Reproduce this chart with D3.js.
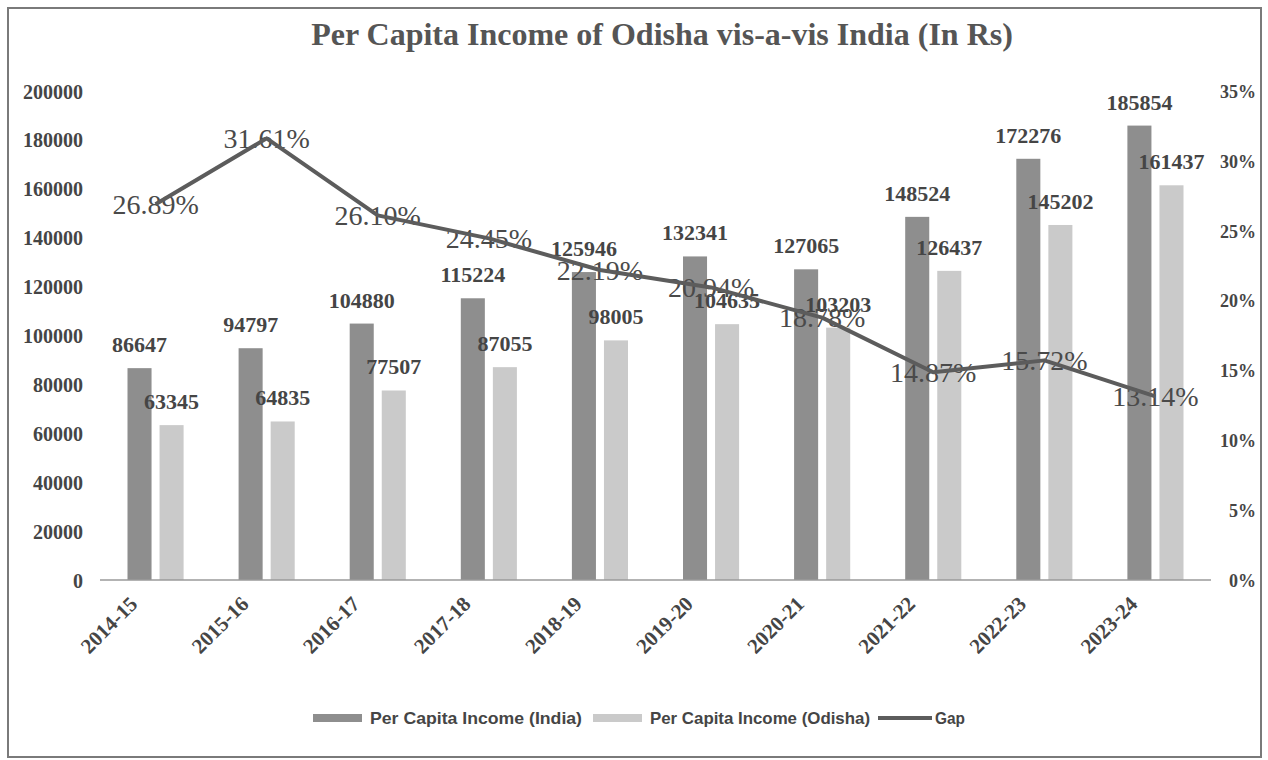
<!DOCTYPE html>
<html>
<head>
<meta charset="utf-8">
<script src="https://cdn.jsdelivr.net/npm/d3@7"></script>
<style>
body{margin:0;background:#fff;}
svg{display:block;}
</style>
</head>
<body>
<svg id="chart" width="1268" height="760"></svg>
<script>
// data
const years = ["2014-15","2015-16","2016-17","2017-18","2018-19","2019-20","2020-21","2021-22","2022-23","2023-24"];
const indiaPCI = [86647,94797,104880,115224,125946,132341,127065,148524,172276,185854];
const odishaPCI = [63345,64835,77507,87055,98005,104635,103203,126437,145202,161437];
const gapPct = [26.89,31.61,26.10,24.45,22.19,20.94,18.78,14.87,15.72,13.14];
const leftTicks = [0,20000,40000,60000,80000,100000,120000,140000,160000,180000,200000];
const rightTicks = [0,5,10,15,20,25,30,35];
const seriesNames = ["Per Capita Income (India)","Per Capita Income (Odisha)","Gap"];

const cIndia = "#8e8e8e", cOdisha = "#cacaca", cGap = "#5c5c5c", cText = "#454545";
const serif = "'Liberation Serif','Times New Roman',serif";

let svg = d3.select("#chart");

svg.append("rect")
  .attr("x",8).attr("y",8).attr("width",1253).attr("height",749)
  .attr("fill","#fff").attr("stroke","#7a7a7a").attr("stroke-width",2);

let plot = {left:100, right:1211, top:91, bottom:580};

let x = d3.scaleBand().domain(years)
  .range([plot.left, plot.right])
  .paddingInner(0.495).paddingOuter(0.2475);
let xs = d3.scaleBand().domain(["india","odisha"])
  .range([0, x.bandwidth()]).paddingInner(0.25);
let y = d3.scaleLinear().domain([0,200000]).range([plot.bottom, plot.top]);
let y2 = d3.scaleLinear().domain([0,35]).range([plot.bottom, plot.top]);

// title
svg.append("text")
  .attr("x",662).attr("y",45)
  .attr("text-anchor","middle")
  .style("font-family",serif).style("font-weight","bold").style("font-size","32px")
  .attr("fill","#555")
  .text("Per Capita Income of Odisha vis-a-vis India (In Rs)");

// left axis
let leftAxis = svg.append("g")
  .attr("transform","translate(83,0)")
  .call(d3.axisLeft(y).tickValues(leftTicks).tickSize(0).tickPadding(0).tickFormat(d3.format("d")));
leftAxis.select(".domain").remove();
leftAxis.selectAll("text")
  .attr("dy","0.35em")
  .style("font-family",serif).style("font-weight","bold").style("font-size","20px")
  .attr("fill",cText);

// right axis
let rightAxis = svg.append("g")
  .attr("transform","translate(1256,0)")
  .call(d3.axisRight(y2).tickValues(rightTicks).tickSize(0).tickPadding(0).tickFormat(d => d + "%"));
rightAxis.select(".domain").remove();
rightAxis.selectAll("text")
  .attr("text-anchor","end")
  .attr("dy","0.35em")
  .style("font-family",serif).style("font-weight","bold").style("font-size","18px")
  .attr("fill",cText);

// bars
let groups = svg.append("g").selectAll("g")
  .data(years)
  .join("g")
  .attr("transform", d => "translate(" + x(d) + ",0)");

groups.append("rect")
  .attr("x", xs("india"))
  .attr("width", xs.bandwidth())
  .attr("y", (d,i) => y(indiaPCI[i]))
  .attr("height", (d,i) => y(0) - y(indiaPCI[i]))
  .attr("fill", cIndia);

groups.append("rect")
  .attr("x", xs("odisha"))
  .attr("width", xs.bandwidth())
  .attr("y", (d,i) => y(odishaPCI[i]))
  .attr("height", (d,i) => y(0) - y(odishaPCI[i]))
  .attr("fill", cOdisha);

// x axis line
svg.append("line")
  .attr("x1",plot.left).attr("x2",plot.right)
  .attr("y1",plot.bottom).attr("y2",plot.bottom)
  .attr("stroke","#9a9a9a").attr("stroke-width",1.5);

// x labels
svg.append("g").selectAll("text")
  .data(years)
  .join("text")
  .attr("transform", d => "translate(" + (x(d) + x.bandwidth()/2 - 22) + ",600) rotate(-45)")
  .attr("text-anchor","end")
  .attr("dy","0.35em")
  .style("font-family",serif).style("font-weight","bold").style("font-size","21px")
  .attr("fill",cText)
  .text(d => d);

// bar labels
groups.append("text")
  .attr("x", xs("india") + xs.bandwidth()/2)
  .attr("y", (d,i) => y(indiaPCI[i]) - 16)
  .attr("text-anchor","middle")
  .style("font-family",serif).style("font-weight","bold").style("font-size","22px")
  .attr("fill",cText)
  .text((d,i) => indiaPCI[i]);

groups.append("text")
  .attr("x", xs("odisha") + xs.bandwidth()/2)
  .attr("y", (d,i) => y(odishaPCI[i]) - 16)
  .attr("text-anchor","middle")
  .style("font-family",serif).style("font-weight","bold").style("font-size","22px")
  .attr("fill",cText)
  .text((d,i) => odishaPCI[i]);

// gap labels
let cx = d => x(d) + x.bandwidth()/2;
svg.append("g").selectAll("text")
  .data(years)
  .join("text")
  .attr("x", d => cx(d))
  .attr("y", (d,i) => y2(gapPct[i]))
  .attr("dy","0.35em")
  .attr("text-anchor","middle")
  .style("font-family",serif).style("font-size","28px")
  .attr("fill","#4a4a4a")
  .text((d,i) => gapPct[i].toFixed(2) + "%");

// gap line
let line = d3.line()
  .x(d => cx(d))
  .y((d,i) => y2(gapPct[i]));
svg.append("path")
  .datum(years)
  .attr("d", line)
  .attr("fill","none")
  .attr("stroke",cGap)
  .attr("stroke-width",4)
  .attr("stroke-linejoin","round");

// legend
let legFont = "'Liberation Sans','Arial',sans-serif";
let leg = svg.append("g").attr("transform","translate(0,718)");
let legItems = [
  {name: seriesNames[0], x: 313, type: "bar", color: cIndia, w: 212},
  {name: seriesNames[1], x: 593, type: "bar", color: cOdisha, w: 220},
  {name: seriesNames[2], x: 878, type: "line", color: cGap, w: 30}
];
legItems.forEach(function(item){
  if(item.type == "bar"){
    leg.append("rect").attr("x",item.x).attr("y",-4).attr("width",49).attr("height",8).attr("fill",item.color);
  } else {
    leg.append("line").attr("x1",item.x).attr("x2",item.x+54).attr("y1",0).attr("y2",0)
      .attr("stroke",item.color).attr("stroke-width",4);
  }
  leg.append("text")
    .attr("x", item.x + 57)
    .attr("y",0).attr("dy","0.35em")
    .attr("textLength", item.w)
    .attr("lengthAdjust","spacingAndGlyphs")
    .style("font-family",legFont).style("font-weight","bold").style("font-size","17px")
    .attr("fill",cText)
    .text(item.name);
});
</script>
</body>
</html>
